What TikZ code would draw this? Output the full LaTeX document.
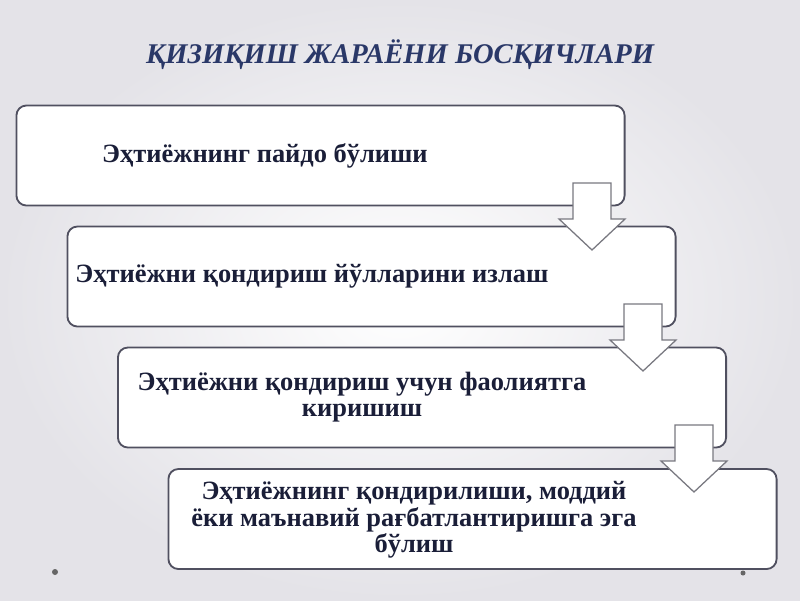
\documentclass[tikz,border=0pt]{standalone}
\usepackage{fontspec}
\setmainfont{Liberation Serif}
\usetikzlibrary{positioning}
\definecolor{titleblue}{RGB}{42,56,104}
\definecolor{textnavy}{RGB}{26,30,56}
\definecolor{boxline}{RGB}{80,80,96}
\definecolor{arrowline}{RGB}{120,120,128}
\definecolor{bgray}{RGB}{228,227,232}
\tikzset{
  stagebox/.style={draw=boxline, line width=1.3pt, fill=white, rounded corners=0.25cm,
    minimum width=15.2cm, minimum height=2.5cm, inner sep=0pt},
  stagetext/.style={text=textnavy, font=\bfseries\fontsize{18.8}{19}\selectfont, align=center, inner sep=0pt},
  blockarrow/.style={draw=arrowline, line width=0.9pt, fill=white, line join=miter}
}
\begin{document}
\begin{tikzpicture}[x=0.025cm, y=-0.025cm]
  % background
  \shade[inner color=white, outer color=bgray] (0,0) rectangle (800,600);
  \useasboundingbox (0,0) rectangle (800,600);

  % title
  \node[text=titleblue, font=\bfseries\itshape\fontsize{20.3}{22}\selectfont] (title) at (400,55)
    {ҚИЗИҚИШ ЖАРАЁНИ БОСҚИЧЛАРИ};

  % stages
  \node[stagebox] (s1) at (320.5,155.5) {};
  \node[stagebox] (s2) at (371.5,276.5) {};
  \node[stagebox] (s3) at (422,397.5) {};
  \node[stagebox] (s4) at (472.5,519) {};

  \node[stagetext] (t1) at (265,156) {Эҳтиёжнинг пайдо бўлиши};
  \node[stagetext] (t2) at (312,276) {Эҳтиёжни қондириш йўлларини излаш};
  \node[stagetext] (t3) at (362,397) {Эҳтиёжни қондириш учун фаолиятга\\киришиш};
  \node[stagetext] (t4) at (414,520) {Эҳтиёжнинг қондирилиши, моддий\\ёки маънавий рағбатлантиришга эга\\бўлиш};

  % arrows between stages
  \foreach \dx/\dy in {0/0, 51/121, 102/242}{
    \filldraw[blockarrow, shift={(\dx,\dy)}]
      (573,183) -- (611,183) -- (611,219) -- (625,219) -- (592,250)
      -- (559,219) -- (573,219) -- cycle;
  }

  % dots
  \fill[gray!80!black] (55,572) circle[radius=3];
  \fill[gray!80!black] (743,573) circle[radius=2.5];
\end{tikzpicture}
\end{document}
